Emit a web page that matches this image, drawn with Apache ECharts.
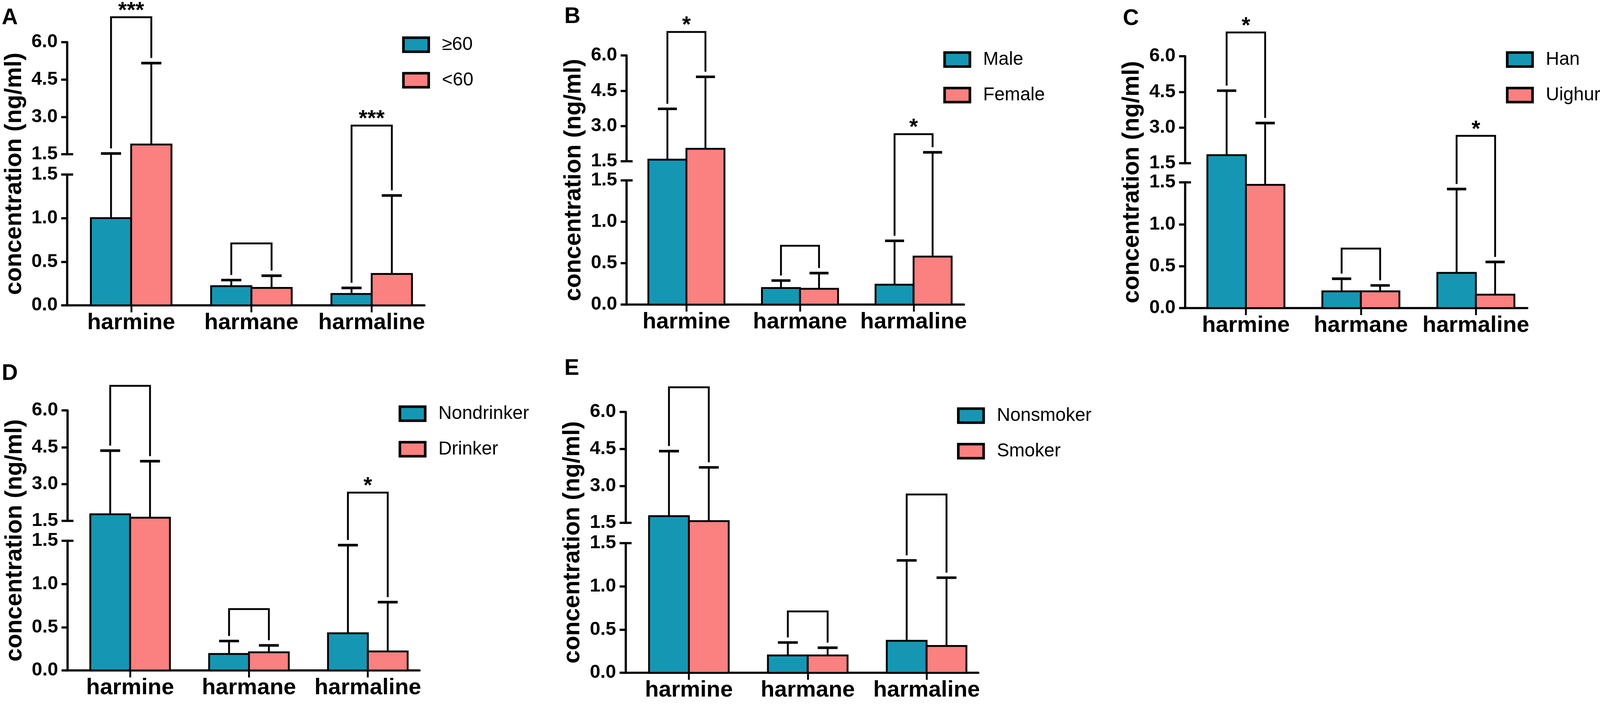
<!DOCTYPE html>
<html>
<head>
<meta charset="utf-8">
<script src="https://cdn.jsdelivr.net/npm/echarts@6/dist/echarts.min.js"></script>
<style>
    html, body { margin: 0; padding: 0; background: #fff; overflow: hidden; }
    #main { width: 100vw; height: 100vh; }
</style>
</head>
<body>
<div id="main"></div>
<script>
    // x categories and broken y axis
    var categories = ['harmine', 'harmane', 'harmaline'];
    var upperRange = [1.5, 6.0];
    var lowerRange = [0, 1.5];
    var upperStep = 1.5;
    var lowerStep = 0.5;
    var breakAt = 1.5;
    // height of the comparison brackets (same in every panel)
    var bracketTop = [7.0, 0.71, 2.65];

    // A: age
    var ageHighMean = [1.00, 0.22, 0.13];
    var ageHighSD = [0.53, 0.07, 0.07];
    var ageLowMean = [1.89, 0.20, 0.36];
    var ageLowSD = [3.27, 0.14, 0.90];
    var ageStars = ['***', '', '***'];
    // B: sex
    var maleMean = [1.57, 0.20, 0.24];
    var maleSD = [2.16, 0.09, 0.53];
    var femaleMean = [2.03, 0.19, 0.58];
    var femaleSD = [3.06, 0.19, 1.30];
    var sexStars = ['*', '', '*'];
    // C: ethnicity
    var hanMean = [1.84, 0.20, 0.42];
    var hanSD = [2.71, 0.15, 1.00];
    var uighurMean = [1.47, 0.20, 0.16];
    var uighurSD = [1.72, 0.07, 0.39];
    var ethnicStars = ['*', '', '*'];
    // D: drinking
    var nondrinkerMean = [1.77, 0.19, 0.43];
    var nondrinkerSD = [2.59, 0.15, 1.02];
    var drinkerMean = [1.63, 0.21, 0.22];
    var drinkerSD = [2.30, 0.08, 0.57];
    var drinkStars = ['', '', '*'];
    // E: smoking
    var nonsmokerMean = [1.77, 0.20, 0.37];
    var nonsmokerSD = [2.64, 0.15, 0.93];
    var smokerMean = [1.57, 0.20, 0.31];
    var smokerSD = [2.18, 0.09, 0.79];
    var smokeStars = ['', '', ''];

    var panels = [
        { letter: 'A', names: ['≥60', '<60'], means: [ageHighMean, ageLowMean], sds: [ageHighSD, ageLowSD], stars: ageStars },
        { letter: 'B', names: ['Male', 'Female'], means: [maleMean, femaleMean], sds: [maleSD, femaleSD], stars: sexStars },
        { letter: 'C', names: ['Han', 'Uighur'], means: [hanMean, uighurMean], sds: [hanSD, uighurSD], stars: ethnicStars },
        { letter: 'D', names: ['Nondrinker', 'Drinker'], means: [nondrinkerMean, drinkerMean], sds: [nondrinkerSD, drinkerSD], stars: drinkStars },
        { letter: 'E', names: ['Nonsmoker', 'Smoker'], means: [nonsmokerMean, smokerMean], sds: [nonsmokerSD, smokerSD], stars: smokeStars }
    ];

    // layout of each panel, in pixels of a 4550 x 1803 page
    var layout = [
        { axisX: 191, xEnd: 1207, upTop: 108, upBot: 395, loTop: 447, loBot: 782, first: 373, band: 342, legLeft: 1140, legTop: 94, letterX: 5, letterY: 22 },
        { axisX: 1782, xEnd: 2741, upTop: 142, upBot: 413, loTop: 462, loBot: 780, first: 1952, band: 323, legLeft: 2679, legTop: 132, letterX: 1605, letterY: 19 },
        { axisX: 3370, xEnd: 4343, upTop: 144, upBot: 418, loTop: 467, loBot: 789, first: 3543, band: 327, legLeft: 4279, legTop: 132, letterX: 3193, letterY: 24 },
        { axisX: 192, xEnd: 1193, upTop: 1051, upBot: 1334, loTop: 1385, loBot: 1717, first: 370, band: 338, legLeft: 1130, legTop: 1039, letterX: 5, letterY: 933 },
        { axisX: 1779, xEnd: 2782, upTop: 1055, upBot: 1339, loTop: 1391, loBot: 1723, first: 1959, band: 338, legLeft: 2718, legTop: 1044, letterX: 1605, letterY: 920 }
    ];

    var colors = ['#1597b3', '#fb8080'];
    var font = '"Liberation Sans", Arial, Helvetica, sans-serif';
    var barFrac = 0.335;   // width of one bar, in category units

    // stretch the 4550 x 1803 design over the viewport we actually get
    var SX = window.innerWidth / 4550;
    var SY = window.innerHeight / 1803;
    var SF = Math.sqrt(SX * SY);
    function sx(v) { return v * SX; }
    function sy(v) { return v * SY; }
    function sf(v) { return v * SF; }

    var chart = echarts.init(document.getElementById('main'));
    var axisIdx = [];

    function yPx(p, v) {
        var idx = v > breakAt ? axisIdx[p].yUp : axisIdx[p].yLo;
        return chart.convertToPixel({ yAxisIndex: idx }, v);
    }
    function xPx(p, v) {
        return chart.convertToPixel({ xAxisIndex: axisIdx[p].xLo }, v);
    }

    function mainY(grid, range, step) {
        return {
            type: 'value', gridIndex: grid, position: 'left', min: range[0], max: range[1], interval: step,
            axisLine: { show: true, onZero: false, lineStyle: { color: '#000', width: sf(6) } },
            axisTick: { show: true, length: sx(17), lineStyle: { color: '#000', width: sf(6) } },
            axisLabel: {
                margin: sx(27), fontSize: sf(51), fontWeight: 'bold', color: '#000', fontFamily: font,
                formatter: function (v) { return v.toFixed(1); }
            },
            splitLine: { show: false }
        };
    }
    // inner half of the tick at the axis break
    function breakY(grid, range) {
        return {
            type: 'value', gridIndex: grid, position: 'left', min: range[0], max: range[1],
            axisLine: { show: false, onZero: false },
            axisLabel: { show: false },
            splitLine: { show: false },
            axisTick: { show: true, inside: true, length: sx(17), customValues: [breakAt], lineStyle: { color: '#000', width: sf(6) } }
        };
    }

    var option = {
        animation: false,
        backgroundColor: '#fff',
        title: [], legend: [], grid: [], xAxis: [], yAxis: [], series: [], graphic: []
    };

    panels.forEach(function (P, p) {
        var L = layout[p];
        var g = option.grid.length;
        option.grid.push({ left: sx(L.axisX), width: sx(L.xEnd - L.axisX), top: sy(L.upTop), height: sy(L.upBot - L.upTop) });
        option.grid.push({ left: sx(L.axisX), width: sx(L.xEnd - L.axisX), top: sy(L.loTop), height: sy(L.loBot - L.loTop) });

        var xMin = -(L.first - L.axisX) / L.band;
        var xMax = 2 + (L.xEnd - L.first - 2 * L.band) / L.band;
        var xi = option.xAxis.length;
        option.xAxis.push({ type: 'value', gridIndex: g, min: xMin, max: xMax, show: false, axisLine: { onZero: false } });
        option.xAxis.push({
            type: 'value', gridIndex: g + 1, min: xMin, max: xMax,
            axisLine: { show: true, onZero: false, lineStyle: { color: '#000', width: sf(6) } },
            axisTick: { show: true, customValues: [0, 1, 2], length: sy(18), lineStyle: { color: '#000', width: sf(5) } },
            axisLabel: {
                customValues: [0, 1, 2], margin: sy(16), fontSize: sf(61), fontWeight: 'bold', color: '#000', fontFamily: font,
                formatter: function (v) { return categories[Math.round(v)]; }
            },
            splitLine: { show: false }
        });

        var yi = option.yAxis.length;
        option.yAxis.push(mainY(g, upperRange, upperStep));
        option.yAxis.push(mainY(g + 1, lowerRange, lowerStep));
        option.yAxis.push(breakY(g, upperRange));
        option.yAxis.push(breakY(g + 1, lowerRange));
        axisIdx[p] = { xLo: xi + 1, yUp: yi, yLo: yi + 1 };

        // bars with error bars, one series per group
        [0, 1].forEach(function (side) {
            option.series.push({
                type: 'custom',
                name: P.names[side],
                xAxisIndex: xi + 1,
                yAxisIndex: yi + 1,
                clip: false,
                z: 3,
                itemStyle: { color: colors[side] },
                encode: { x: 0, y: 1 },
                data: P.means[side].map(function (m, i) { return [i, m, P.sds[side][i]]; }),
                renderItem: function (params, api) {
                    var i = api.value(0), m = api.value(1), sd = api.value(2);
                    var x0 = xPx(p, side === 0 ? i - barFrac : i);
                    var x1 = xPx(p, side === 0 ? i : i + barFrac);
                    var cx = (x0 + x1) / 2, capHalf = (x1 - x0) * 0.25;
                    var yTop = yPx(p, m), yBase = yPx(p, 0), yCap = yPx(p, m + sd);
                    return {
                        type: 'group',
                        children: [
                            { type: 'rect', shape: { x: x0, y: yTop, width: x1 - x0, height: yBase - yTop },
                              style: { fill: colors[side], stroke: '#000', lineWidth: sf(5) } },
                            { type: 'line', shape: { x1: cx, y1: yTop, x2: cx, y2: yCap },
                              style: { stroke: '#000', lineWidth: sf(5), fill: 'none' } },
                            { type: 'line', shape: { x1: cx - capHalf, y1: yCap, x2: cx + capHalf, y2: yCap },
                              style: { stroke: '#000', lineWidth: sf(7), fill: 'none' } }
                        ]
                    };
                }
            });
        });

        // significance brackets
        option.series.push({
            type: 'custom',
            xAxisIndex: xi + 1,
            yAxisIndex: yi + 1,
            clip: false,
            silent: true,
            z: 4,
            encode: { x: 0, y: 1 },
            data: bracketTop.map(function (b, i) { return [i, b]; }),
            renderItem: function (params, api) {
                var i = api.value(0), b = api.value(1);
                var xl = xPx(p, i - barFrac / 2), xr = xPx(p, i + barFrac / 2);
                var yl = yPx(p, P.means[0][i] + P.sds[0][i]) - sy(13);
                var yr = yPx(p, P.means[1][i] + P.sds[1][i]) - sy(13);
                var yt = yPx(p, b);
                var kids = [{
                    type: 'polyline',
                    shape: { points: [[xl, yl], [xl, yt], [xr, yt], [xr, yr]] },
                    style: { stroke: '#000', lineWidth: sf(5), fill: 'none', lineJoin: 'miter' }
                }];
                if (P.stars[i]) {
                    kids.push({
                        type: 'text', x: (xl + xr) / 2, y: yt - sy(15),
                        style: {
                            text: P.stars[i], fill: '#000', fontSize: sf(60), fontWeight: 'bold', fontFamily: font,
                            align: 'center', verticalAlign: 'middle', textAlign: 'center', textVerticalAlign: 'middle'
                        }
                    });
                }
                return { type: 'group', children: kids };
            }
        });

        option.legend.push({
            data: P.names,
            orient: 'vertical',
            left: sx(L.legLeft + 3.5),
            top: sy(L.legTop - 3),
            padding: 0,
            icon: 'rect',
            itemWidth: sx(72),
            itemHeight: sy(36),
            itemGap: sy(44),
            selectedMode: false,
            itemStyle: { borderColor: '#000', borderWidth: sf(7) },
            textStyle: { fontSize: sf(50), color: '#000', fontFamily: font, padding: [0, 0, 0, sx(32)] }
        });

        option.title.push({
            text: P.letter,
            left: sx(L.letterX),
            top: sy(L.letterY - 4),
            padding: 0,
            textStyle: { fontSize: sf(60), fontWeight: 'bold', color: '#000', fontFamily: font }
        });

        option.graphic.push({
            type: 'text',
            x: sx(L.axisX - 150),
            y: sy((L.upTop + L.loBot) / 2),
            rotation: Math.PI / 2,
            style: {
                text: 'concentration (ng/ml)', fill: '#000', fontSize: sf(64), fontWeight: 'bold', fontFamily: font,
                align: 'center', verticalAlign: 'middle', textAlign: 'center', textVerticalAlign: 'middle'
            }
        });
    });

    chart.setOption(option);
</script>
</body>
</html>
